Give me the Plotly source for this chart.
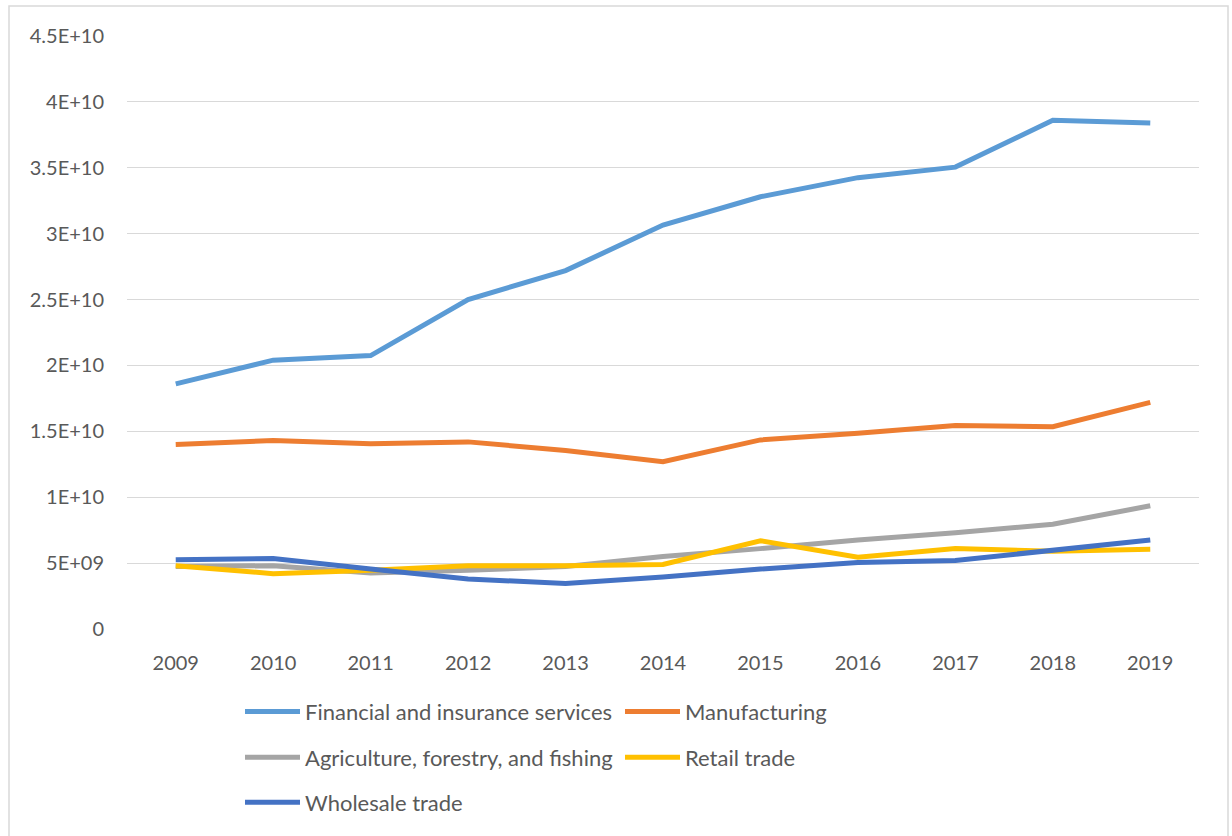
import plotly.graph_objects as go

years = ["2009", "2010", "2011", "2012", "2013", "2014", "2015", "2016", "2017", "2018", "2019"]

financial = [1.86e10, 2.04e10, 2.075e10, 2.50e10, 2.72e10, 3.065e10, 3.28e10, 3.425e10, 3.505e10, 3.86e10, 3.84e10]
manufacturing = [1.40e10, 1.43e10, 1.405e10, 1.42e10, 1.355e10, 1.27e10, 1.435e10, 1.485e10, 1.545e10, 1.535e10, 1.72e10]
agriculture = [4.75e9, 4.8e9, 4.25e9, 4.45e9, 4.75e9, 5.5e9, 6.1e9, 6.75e9, 7.3e9, 7.95e9, 9.35e9]
retail = [4.8e9, 4.2e9, 4.45e9, 4.8e9, 4.8e9, 4.9e9, 6.7e9, 5.45e9, 6.1e9, 5.9e9, 6.05e9]
wholesale = [5.25e9, 5.35e9, 4.55e9, 3.8e9, 3.45e9, 3.95e9, 4.55e9, 5.05e9, 5.2e9, 5.95e9, 6.75e9]

series_names = [
    "Financial and insurance services",
    "Manufacturing",
    "Agriculture, forestry, and fishing",
    "Retail trade",
    "Wholesale trade",
]
series_values = [financial, manufacturing, agriculture, retail, wholesale]
series_colors = ["#5B9BD5", "#ED7D31", "#A5A5A5", "#FFC000", "#4472C4"]
# legend row for each series (two entries per row)
series_legend = ["legend", "legend", "legend2", "legend2", "legend3"]

y_ticks = [0, 5e9, 1e10, 1.5e10, 2e10, 2.5e10, 3e10, 3.5e10, 4e10, 4.5e10]
y_tick_labels = ["0", "5E+09", "1E+10", "1.5E+10", "2E+10", "2.5E+10", "3E+10", "3.5E+10", "4E+10", "4.5E+10"]

W, H = 1232, 836
L, R, T, B = 127, 33, 36, 205
FONT = "Lato, 'Open Sans', sans-serif"
GREY_TEXT = "#595959"

fig = go.Figure()
for name, vals, col, lg in zip(series_names, series_values, series_colors, series_legend):
    fig.add_trace(go.Scatter(
        x=years, y=vals, name=name, mode="lines",
        line=dict(color=col, width=5, shape="linear"),
        legend=lg,
    ))

pw = W - L - R
ph = H - T - B


def px_x(p):
    return (p - L) / pw


def px_y(p):
    return (H - B - p) / ph


# chart-area frame
fig.add_shape(type="rect", xref="paper", yref="paper",
              x0=px_x(9), x1=px_x(1228), y0=px_y(845), y1=px_y(6),
              line=dict(color="#D9D9D9", width=1.5), layer="below")


def legend_row(y_px):
    return dict(
        orientation="h", xref="paper", yref="paper",
        x=px_x(240), y=px_y(y_px), xanchor="left", yanchor="middle",
        entrywidth=310, entrywidthmode="pixels",
        itemwidth=55, tracegroupgap=0,
        font=dict(family=FONT, size=22, color=GREY_TEXT),
        bgcolor="rgba(0,0,0,0)",
    )


fig.update_layout(
    width=W, height=H,
    margin=dict(l=L, r=R, t=T, b=B, pad=0),
    paper_bgcolor="white", plot_bgcolor="white",
    font=dict(family=FONT, size=20, color=GREY_TEXT),
    showlegend=True,
    legend=legend_row(714),
    legend2=legend_row(760),
    legend3=legend_row(805),
    xaxis=dict(
        type="category", showgrid=False, zeroline=False, showline=False,
        ticks="", tickfont=dict(family=FONT, size=20, color=GREY_TEXT),
        range=[-0.5, 10.5], ticklabelstandoff=20,
    ),
    yaxis=dict(
        range=[0, 4.5e10], tickvals=y_ticks, ticktext=y_tick_labels,
        showgrid=True, gridcolor="#D9D9D9", gridwidth=1.3,
        zeroline=False, showline=False, ticks="",
        tickfont=dict(family=FONT, size=20, color=GREY_TEXT),
        ticklabelstandoff=22,
    ),
)

fig.write_html("out.html")
